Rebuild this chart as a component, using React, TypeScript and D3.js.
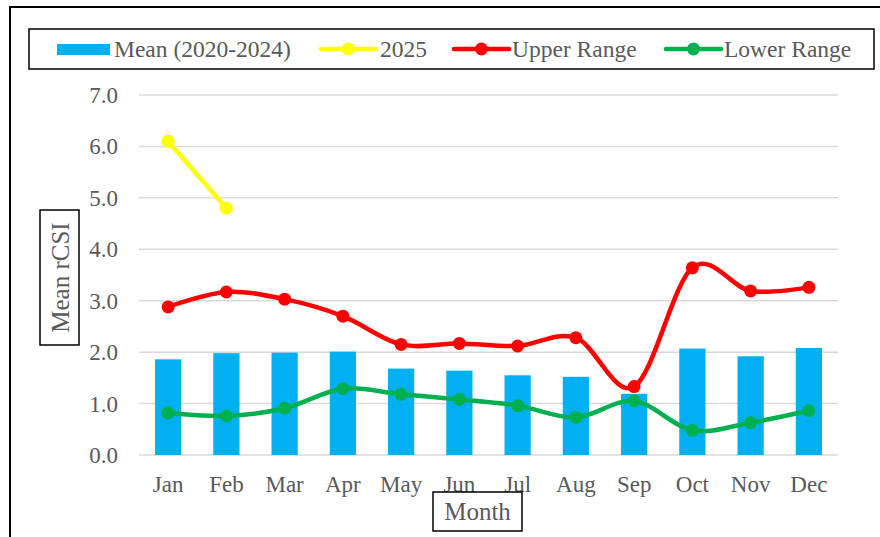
import { useEffect, useRef } from 'react';
import * as d3 from 'd3';

const months = ['Jan', 'Feb', 'Mar', 'Apr', 'May', 'Jun', 'Jul', 'Aug', 'Sep', 'Oct', 'Nov', 'Dec'];
const meanValues = [1.86, 1.98, 1.99, 2.01, 1.68, 1.64, 1.55, 1.52, 1.19, 2.07, 1.92, 2.08];
const values2025 = [6.1, 4.8];
const upperRange = [2.88, 3.17, 3.03, 2.7, 2.15, 2.17, 2.12, 2.28, 1.33, 3.64, 3.19, 3.26];
const lowerRange = [0.82, 0.76, 0.91, 1.29, 1.18, 1.08, 0.96, 0.73, 1.05, 0.48, 0.63, 0.86];
const yTicks = [0, 1, 2, 3, 4, 5, 6, 7];

const FONT = '"Liberation Serif", "Times New Roman", serif';
const TEXT = '#595959';

const App = () => {
  const svgRef = useRef<SVGSVGElement>(null);

  useEffect(() => {
    document.body.style.margin = '0';
    if (!svgRef.current) return;

    const svg = d3.select(svgRef.current);
    svg.selectAll('*').remove();

    const width = 880;
    const height = 537;
    const left = 139, right = 838, top = 95, bottom = 455;

    // outer chart frame (runs off the right and bottom edges)
    svg.append('rect')
      .attr('x', 10).attr('y', 7)
      .attr('width', width + 10).attr('height', height + 10)
      .attr('fill', 'white').attr('stroke', 'black').attr('stroke-width', 2);

    const x = d3.scaleBand().domain(months).range([left, right]).padding(0);
    const y = d3.scaleLinear().domain([0, 7]).range([bottom, top]);
    const cx = (m: string) => (x(m) as number) + x.bandwidth() / 2;

    // gridlines
    svg.append('g').selectAll('line')
      .data(yTicks)
      .enter()
      .append('line')
        .attr('x1', left).attr('x2', right)
        .attr('y1', d => y(d)).attr('y2', d => y(d))
        .attr('stroke', '#d9d9d9').attr('stroke-width', 1.5);

    // y tick labels
    svg.append('g').selectAll('text')
      .data(yTicks)
      .enter()
      .append('text')
        .attr('x', 118)
        .attr('y', d => y(d))
        .attr('dy', '0.35em')
        .attr('text-anchor', 'end')
        .style('font-family', FONT).style('font-size', '23px').style('fill', TEXT)
        .text(d => d.toFixed(1));

    // x tick labels
    svg.append('g').selectAll('text')
      .data(months)
      .enter()
      .append('text')
        .attr('x', d => cx(d))
        .attr('y', 492)
        .attr('text-anchor', 'middle')
        .style('font-family', FONT).style('font-size', '23px').style('fill', TEXT)
        .text(d => d);

    // bars
    const barW = x.bandwidth() * 0.45;
    svg.append('g').selectAll('rect')
      .data(months)
      .enter()
      .append('rect')
        .attr('x', d => cx(d) - barW / 2)
        .attr('y', (d, i) => y(meanValues[i]))
        .attr('width', barW)
        .attr('height', (d, i) => bottom - y(meanValues[i]))
        .attr('fill', '#00b0f0');

    const line = d3.line<[string, number]>()
      .x(d => cx(d[0]))
      .y(d => y(d[1]))
      .curve(d3.curveCardinal.tension(0));

    const series: { vals: number[]; color: string }[] = [
      { vals: upperRange, color: '#ff0000' },
      { vals: lowerRange, color: '#00b050' },
      { vals: values2025, color: '#ffff00' },
    ];

    series.forEach(s => {
      const pts = s.vals.map((v, i) => [months[i], v] as [string, number]);
      svg.append('path')
        .datum(pts)
        .attr('d', line)
        .attr('fill', 'none')
        .attr('stroke', s.color)
        .attr('stroke-width', 4.5)
        .attr('stroke-linejoin', 'round');
      svg.append('g').selectAll('circle')
        .data(pts)
        .enter()
        .append('circle')
          .attr('cx', d => cx(d[0]))
          .attr('cy', d => y(d[1]))
          .attr('r', 6.5)
          .attr('fill', s.color);
    });

    // legend
    const lg = svg.append('g');
    lg.append('rect')
      .attr('x', 29).attr('y', 29).attr('width', 845).attr('height', 40)
      .attr('fill', 'white').attr('stroke', 'black').attr('stroke-width', 1.5);
    const ly = 49;
    lg.append('rect')
      .attr('x', 57).attr('y', ly - 5).attr('width', 53).attr('height', 11)
      .attr('fill', '#00b0f0');
    const legendItems = [
      { label: 'Mean (2020-2024)', color: null, x0: 57, tx: 114 },
      { label: '2025', color: '#ffff00', x0: 321, tx: 380 },
      { label: 'Upper Range', color: '#ff0000', x0: 454, tx: 512 },
      { label: 'Lower Range', color: '#00b050', x0: 666, tx: 724 },
    ];
    legendItems.forEach(it => {
      if (it.color) {
        lg.append('line')
          .attr('x1', it.x0).attr('x2', it.x0 + 55)
          .attr('y1', ly).attr('y2', ly)
          .attr('stroke', it.color).attr('stroke-width', 4.5).attr('stroke-linecap', 'round');
        lg.append('circle')
          .attr('cx', it.x0 + 27.5).attr('cy', ly).attr('r', 6.5).attr('fill', it.color);
      }
      lg.append('text')
        .attr('x', it.tx).attr('y', ly).attr('dy', '0.35em')
        .style('font-family', FONT).style('font-size', '23.5px').style('fill', TEXT)
        .text(it.label);
    });

    // y axis title
    svg.append('rect')
      .attr('x', 40).attr('y', 210).attr('width', 39).attr('height', 135)
      .attr('fill', 'white').attr('stroke', 'black').attr('stroke-width', 1.5);
    svg.append('text')
      .attr('transform', 'translate(60,277.5) rotate(-90)')
      .attr('text-anchor', 'middle').attr('dy', '0.35em')
      .style('font-family', FONT).style('font-size', '25px').style('fill', TEXT)
      .text('Mean rCSI');

    // x axis title
    svg.append('rect')
      .attr('x', 433).attr('y', 492).attr('width', 89).attr('height', 39)
      .attr('fill', 'white').attr('stroke', 'black').attr('stroke-width', 1.5);
    svg.append('text')
      .attr('x', 477.5).attr('y', 511.5).attr('dy', '0.35em')
      .attr('text-anchor', 'middle')
      .style('font-family', FONT).style('font-size', '25px').style('fill', TEXT)
      .text('Month');
  }, []);

  return <svg ref={svgRef} width="880" height="537" viewBox="0 0 880 537" style={{ display: 'block' }} />;
};

export default App;
